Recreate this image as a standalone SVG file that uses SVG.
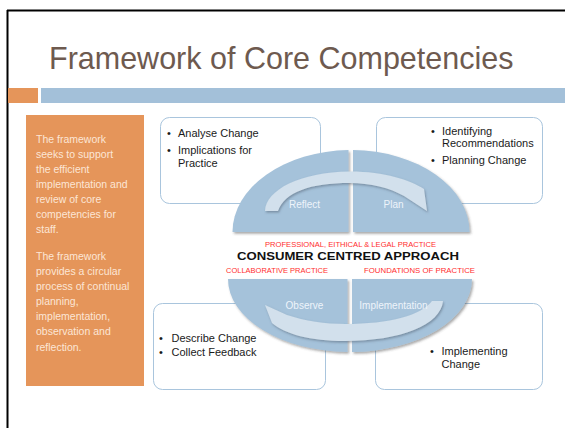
<svg xmlns="http://www.w3.org/2000/svg" width="565" height="428" viewBox="0 0 565 428">
<defs>
<style>
.title{font-family:"Liberation Sans",Arial,sans-serif;font-size:30.5px;fill:#6e5a4f}
.side{font-family:"Liberation Sans",Arial,sans-serif;font-size:10.5px;fill:#fce6d6}
.box{fill:#ffffff;stroke:#a9c5dd;stroke-width:1}
.bt{font-family:"Liberation Sans",Arial,sans-serif;font-size:11px;fill:#1a1a1a}
.quad{fill:#a5c2da}
.arrow{fill:#d2e0ec}
.ql{font-family:"Liberation Sans",Arial,sans-serif;font-size:10px;fill:#eef4fa;text-anchor:middle}
.red{font-family:"Liberation Sans",Arial,sans-serif;font-size:8px;fill:#ff2e2e}
.main{font-family:"Liberation Sans",Arial,sans-serif;font-size:11.5px;font-weight:bold;fill:#111111}
</style>
<filter id="sh" x="-10%" y="-10%" width="125%" height="130%">
<feDropShadow dx="1.5" dy="1.8" stdDeviation="1.2" flood-color="#444444" flood-opacity="0.45"/>
</filter>
<filter id="sh2" x="-10%" y="-20%" width="125%" height="150%">
<feDropShadow dx="1" dy="1.5" stdDeviation="1.2" flood-color="#4a5a6a" flood-opacity="0.5"/>
</filter>
</defs>
<rect x="0" y="0" width="565" height="428" fill="#ffffff"/>
<g id="frame">
<line x1="7" y1="10.5" x2="565" y2="10.5" stroke="#000000" stroke-width="2"/>
<line x1="7.5" y1="10" x2="7.5" y2="428" stroke="#000000" stroke-width="2"/>
</g>
<g id="title">
<text class="title" x="49" y="69">Framework of Core Competencies</text>
</g>
<g id="accent-bars">
<rect x="8" y="88" width="30" height="15" fill="#e5955a"/>
<rect x="41" y="88" width="524" height="15" fill="#a3c0d9"/>
</g>
<g id="sidebar">
<rect x="26" y="115" width="118" height="271" fill="#e5955a"/>
<text class="side" x="36" y="142.5">The framework</text>
<text class="side" x="36" y="157.5">seeks to support</text>
<text class="side" x="36" y="172.5">the efficient</text>
<text class="side" x="36" y="187.5">implementation and</text>
<text class="side" x="36" y="202.5">review of core</text>
<text class="side" x="36" y="217.5">competencies for</text>
<text class="side" x="36" y="232.5">staff.</text>
<text class="side" x="36" y="260">The framework</text>
<text class="side" x="36" y="275.3">provides a circular</text>
<text class="side" x="36" y="290.3">process of continual</text>
<text class="side" x="36" y="305.3">planning,</text>
<text class="side" x="36" y="320.3">implementation,</text>
<text class="side" x="36" y="335.3">observation and</text>
<text class="side" x="36" y="351">reflection.</text>
</g>
<g id="box-reflect">
<rect class="box" x="160.5" y="117.5" width="160" height="86" rx="9"/>
<text class="bt" x="167" y="137">•</text><text class="bt" x="178" y="137">Analyse Change</text>
<text class="bt" x="167" y="154">•</text><text class="bt" x="178" y="154">Implications for</text>
<text class="bt" x="178" y="166.5">Practice</text>
</g>
<g id="box-plan">
<rect class="box" x="376.5" y="117.5" width="166" height="86" rx="9"/>
<text class="bt" x="431" y="134.5">•</text><text class="bt" x="442" y="134.5">Identifying</text>
<text class="bt" x="442" y="147">Recommendations</text>
<text class="bt" x="431" y="163.5">•</text><text class="bt" x="442" y="163.5">Planning Change</text>
</g>
<g id="box-observe">
<rect class="box" x="153.5" y="303.5" width="172" height="86" rx="9"/>
<text class="bt" x="159" y="341.5">•</text><text class="bt" x="171.5" y="341.5">Describe Change</text>
<text class="bt" x="159" y="356">•</text><text class="bt" x="171.5" y="356">Collect Feedback</text>
</g>
<g id="box-implement">
<rect class="box" x="375.5" y="303.5" width="167" height="86" rx="9"/>
<text class="bt" x="430" y="355">•</text><text class="bt" x="441.5" y="355">Implementing</text>
<text class="bt" x="441.5" y="368.3">Change</text>
</g>
<g id="cycle" filter="url(#sh)">
<path id="q-reflect" class="quad" d="M232.5,232 A118.5,82 0 0 1 348.5,150.03 L348.5,232 Z"/>
<path id="q-plan" class="quad" d="M353,150.01 A118.5,82 0 0 1 469.5,232 L353,232 Z"/>
<path id="q-observe" class="quad" d="M228,279 L347.5,279 L347.5,351.98 A122,73 0 0 1 228,279 Z"/>
<path id="q-implementation" class="quad" d="M352,279 L472,279 A122,73 0 0 1 352,351.98 Z"/>
</g>
<g id="connectors" filter="url(#sh2)">
<path class="arrow" d="M265,211 C266,190 300,172 350,171.5 C385,171.5 410,180 424,189 L427,211 L404,196 C390,188 370,183 350,183 C310,183 285,192 278,211 Z"/>
<path class="arrow" d="M443,301 C441,325 400,341 345,341 C310,341 285,334 272,323 L265,305 L287,315 C305,321 325,324 345,324 C390,324 422,315 432,301 Z"/>
</g>
<g id="cycle-labels">
<text class="ql" x="304.5" y="207.5">Reflect</text>
<text class="ql" x="393.5" y="207.5">Plan</text>
<text class="ql" x="304.5" y="308.5">Observe</text>
<text class="ql" x="393.5" y="308.5">Implementation</text>
</g>
<g id="center">
<text class="red" x="265" y="247" textLength="171" lengthAdjust="spacingAndGlyphs">PROFESSIONAL, EITHICAL &amp; LEGAL PRACTICE</text>
<text class="main" x="237" y="259.5" textLength="222" lengthAdjust="spacingAndGlyphs">CONSUMER CENTRED APPROACH</text>
<text class="red" x="226" y="273" textLength="102" lengthAdjust="spacingAndGlyphs">COLLABORATIVE PRACTICE</text>
<text class="red" x="364" y="273" textLength="111" lengthAdjust="spacingAndGlyphs">FOUNDATIONS OF PRACTICE</text>
</g>
</svg>
